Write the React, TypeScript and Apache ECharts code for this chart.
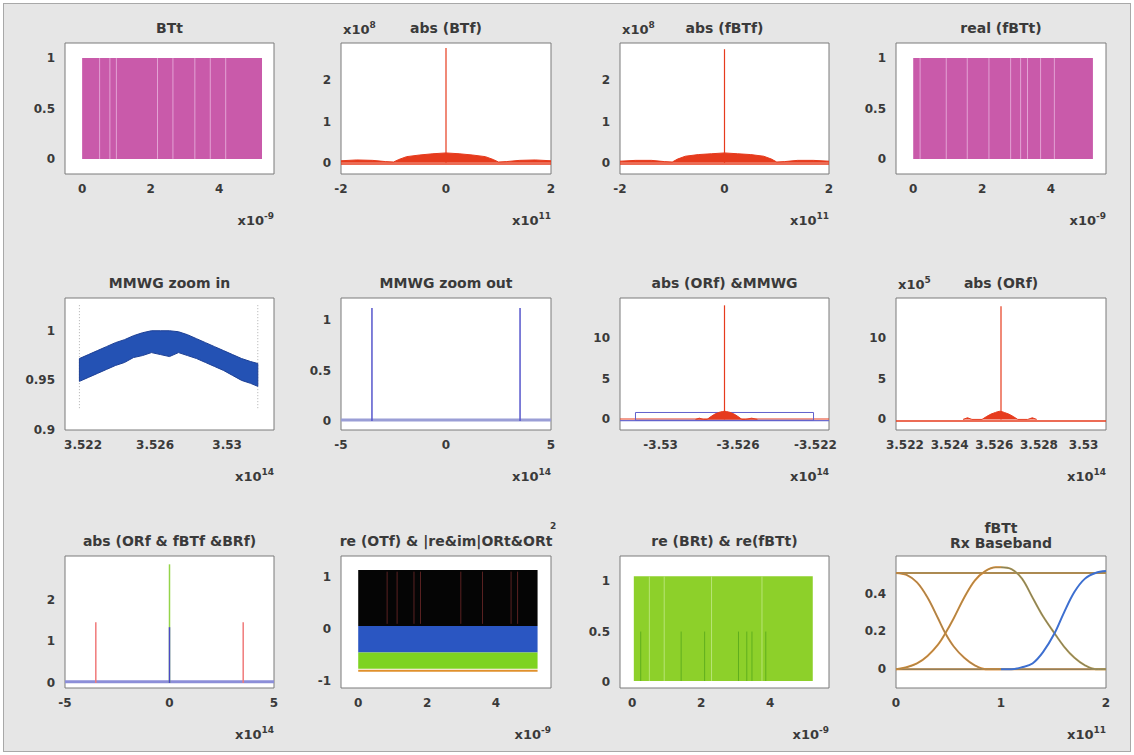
import React, { useEffect, useRef } from "react";
import * as echarts from "echarts";

const FONT = "'DejaVu Sans', 'Liberation Sans', Arial, sans-serif";
const TXT = "#3a3a3a";

// ---------- panel frames (pixels) ----------
const COLS = [[65, 274], [341, 551], [620, 829], [896, 1106]];
const ROWS = [[43, 174], [298, 430], [556, 688]];

// ---------- texts ----------
const titles = [
  "BTt", "abs (BTf)", "abs (fBTf)", "real (fBTt)",
  "MMWG zoom in", "MMWG zoom out", "abs (ORf) &MMWG", "abs (ORf)",
  "abs (ORf & fBTf &BRf)", "re (OTf) & |re&im|ORt&ORt", "re (BRt) & re(fBTt)", "fBTt\nRx Baseband",
];
const xExponents = ["-9", "11", "11", "-9", "14", "14", "14", "14", "14", "-9", "-9", "11"];
const yExponents = ["", "8", "8", "", "", "", "", "5", "", "", "", ""];

// ---------- axes ----------
const xRanges = [
  [-0.5, 5.6], [-2, 2], [-2, 2], [-0.5, 5.6],
  [3.521, 3.5326], [-5, 5], [-3.5321, -3.5213], [3.5216, 3.531],
  [-5, 5], [-0.5, 5.6], [-0.35, 5.7], [0, 2],
];
const yRanges = [
  [-0.15, 1.15], [-0.27, 2.9], [-0.27, 2.9], [-0.15, 1.15],
  [0.9, 1.033], [-0.09, 1.22], [-1.3, 14.9], [-1.3, 14.9],
  [-0.12, 3.05], [-1.13, 1.4], [-0.06, 1.25], [-0.1, 0.6],
];
const xTicks = [
  [0, 2, 4], [-2, 0, 2], [-2, 0, 2], [0, 2, 4],
  [3.522, 3.526, 3.53], [-5, 0, 5], [-3.53, -3.526, -3.522], [3.522, 3.524, 3.526, 3.528, 3.53],
  [-5, 0, 5], [0, 2, 4], [0, 2, 4], [0, 1, 2],
];
const yTicks = [
  [0, 0.5, 1], [0, 1, 2], [0, 1, 2], [0, 0.5, 1],
  [0.9, 0.95, 1], [0, 0.5, 1], [0, 5, 10], [0, 5, 10],
  [0, 1, 2], [-1, 0, 1], [0, 0.5, 1], [0, 0.2, 0.4],
];

// ---------- data ----------
// P1 BTt  [x0, x1, y0, y1]
const btBlock = [0, 5.25, 0, 1];
const btStreaks = [0.51, 0.81, 1.0, 2.2, 2.65, 3.29, 3.74, 4.19];
// P2 abs(BTf)
const btfX = [-2, -1.7, -1.4, -1.15, -1.0, -0.9, -0.75, -0.5, -0.25, 0, 0.25, 0.5, 0.75, 0.9, 1.0, 1.15, 1.4, 1.7, 2];
const btfY = [0.05, 0.07, 0.06, 0.03, 0.02, 0.08, 0.15, 0.19, 0.22, 0.24, 0.22, 0.19, 0.15, 0.08, 0.02, 0.03, 0.06, 0.07, 0.05];
const btfPeak = 2.78;
// P3 abs(fBTf)
const fbtfX = [-2, -1.7, -1.4, -1.15, -1.0, -0.9, -0.75, -0.5, -0.25, 0, 0.25, 0.5, 0.75, 0.9, 1.0, 1.15, 1.4, 1.7, 2];
const fbtfY = [0.04, 0.06, 0.06, 0.03, 0.02, 0.09, 0.16, 0.2, 0.22, 0.24, 0.22, 0.2, 0.16, 0.09, 0.02, 0.03, 0.06, 0.06, 0.04];
const fbtfPeak = 2.75;
// P4 real(fBTt)
const fbttBlock = [0, 5.22, 0, 1];
const fbttStreaks = [0.2, 0.96, 1.57, 2.2, 2.83, 3.12, 3.32, 3.7, 4.1];
// P5 MMWG zoom in
const mmwgX = [3.5218, 3.5223, 3.5228, 3.5233, 3.5238, 3.5243, 3.5248, 3.5253, 3.5258, 3.5263, 3.5268, 3.5273, 3.5278, 3.5283, 3.5288, 3.5293, 3.5298, 3.5303, 3.5308, 3.5313, 3.5317];
const mmwgHi = [0.972, 0.976, 0.98, 0.984, 0.988, 0.991, 0.995, 0.998, 1.0, 1.0, 1.0, 0.999, 0.996, 0.992, 0.988, 0.984, 0.98, 0.976, 0.972, 0.969, 0.967];
const mmwgLo = [0.949, 0.953, 0.957, 0.961, 0.965, 0.968, 0.973, 0.975, 0.978, 0.976, 0.974, 0.978, 0.975, 0.972, 0.968, 0.964, 0.96, 0.955, 0.95, 0.947, 0.944];
const mmwgEdges = [3.5218, 3.5317];
// P6 MMWG zoom out
const mmwgSpikeX = [-3.526, 3.526];
const mmwgSpikeH = 1.12;
// P7 abs(ORf) & MMWG
const orf7X = [-3.5282, -3.528, -3.5278, -3.5276, -3.5274, -3.5272, -3.527, -3.5268, -3.5267, -3.5266, -3.5264, -3.5262, -3.526, -3.5258, -3.5256, -3.5253, -3.525];
const orf7Y = [0, 0.15, 0, 0, 0.35, 0.65, 0.85, 0.97, 1.0, 0.97, 0.85, 0.65, 0.35, 0, 0, 0.15, 0];
const orf7Peak = [-3.5267, 14.0];
const window7 = [-3.5313, -3.5221, -0.1, 0.85];
// P8 abs(ORf)
const orf8X = [3.5246, 3.5248, 3.525, 3.52545, 3.52565, 3.52585, 3.52605, 3.52615, 3.52625, 3.52635, 3.52645, 3.52665, 3.52685, 3.52705, 3.5275, 3.5277, 3.5279];
const orf8Y = [0, 0.2, 0, 0, 0.35, 0.65, 0.85, 0.95, 1.0, 0.95, 0.85, 0.65, 0.35, 0, 0, 0.2, 0];
const orf8Peak = [3.5263, 13.9];
// P9 abs(ORf & fBTf & BRf)
const orfSpikes9 = [[-3.526, 1.46], [3.526, 1.46]];
const fbtfSpike9 = 2.85;
const brfSpike9 = 1.34;
// P10 re(OTf) & ...
const otBlocks = [
  [0, 5.21, 0.06, 1.13],
  [0, 5.21, -0.45, 0.06],
  [0, 5.21, -0.76, -0.45],
];
const otColors = ["#050505", "#2a56c2", "#7ed321"];
const otBottom = -0.8;
const otStreaks = [0.84, 1.13, 1.62, 1.81, 2.98, 3.61, 4.44, 4.63];
// P11 re(BRt) & re(fBTt)
const brBlock = [0.05, 5.23, 0.01, 1.05];
const brLightStreaks = [0.5, 0.93, 2.3, 3.76];
const brDarkStreaks = [0.25, 1.42, 2.1, 3.08, 3.32, 3.47, 3.87];
// P12 eye diagram
const eyeX1 = [0, 0.1, 0.2, 0.3, 0.4, 0.47, 0.55, 0.65, 0.75, 0.85, 0.95, 1.0];
const eyeFall1 = [0.51, 0.5, 0.46, 0.38, 0.27, 0.19, 0.12, 0.06, 0.02, 0.0, 0.0, 0.0];
const eyeRise1 = [0.0, 0.01, 0.03, 0.07, 0.13, 0.19, 0.27, 0.38, 0.47, 0.52, 0.54, 0.54];
const eyeX2 = [1.0, 1.1, 1.2, 1.3, 1.4, 1.51, 1.6, 1.7, 1.8, 1.9, 2.0];
const eyeFall2 = [0.54, 0.53, 0.48, 0.38, 0.28, 0.19, 0.12, 0.06, 0.02, 0.0, 0.0];
const eyeRise2 = [0.0, 0.0, 0.01, 0.03, 0.09, 0.19, 0.3, 0.41, 0.48, 0.51, 0.52];
const eyeTop = 0.51;
const eyeBottom = 0.0;

// ---------- helpers ----------
const fmt = (v: number) => String(parseFloat(Number(v).toFixed(4)));

function segSeries(i: number, data: number[][], color: string, width: number, dash?: number[]) {
  return {
    type: "custom", xAxisIndex: i, yAxisIndex: i, clip: true, silent: true, data,
    renderItem: (_p: any, api: any) => {
      const a = api.coord([api.value(0), api.value(1)]);
      const b = api.coord([api.value(2), api.value(3)]);
      return { type: "line", shape: { x1: a[0], y1: a[1], x2: b[0], y2: b[1] }, style: { stroke: color, lineWidth: width, lineDash: dash || null } };
    },
  };
}
function rectSeries(i: number, data: number[][], fill: string | null, stroke?: string) {
  return {
    type: "custom", xAxisIndex: i, yAxisIndex: i, clip: true, silent: true, data,
    renderItem: (_p: any, api: any) => {
      const a = api.coord([api.value(0), api.value(3)]);
      const b = api.coord([api.value(1), api.value(2)]);
      return {
        type: "rect",
        shape: { x: a[0], y: a[1], width: b[0] - a[0], height: b[1] - a[1] },
        style: { fill: fill || "none", stroke: stroke || null, lineWidth: 1 },
      };
    },
  };
}
function bandSeries(i: number, xs: number[], hi: number[], lo: number[], color: string) {
  return {
    type: "custom", xAxisIndex: i, yAxisIndex: i, clip: true, silent: true, data: [[xs[0], hi[0]]],
    renderItem: (_p: any, api: any) => {
      const pts: number[][] = [];
      xs.forEach((x, k) => pts.push(api.coord([x, hi[k]])));
      for (let k = xs.length - 1; k >= 0; k--) pts.push(api.coord([xs[k], lo[k]]));
      return { type: "polygon", shape: { points: pts }, style: { fill: color, stroke: "#1c3f95", lineWidth: 1 } };
    },
  };
}
function areaSeries(i: number, xs: number[], ys: number[], color: string) {
  return {
    type: "line", xAxisIndex: i, yAxisIndex: i, silent: true, symbol: "none",
    data: xs.map((x, k) => [x, ys[k]]),
    lineStyle: { color, width: 1 }, areaStyle: { color, opacity: 1 },
  };
}
function curveSeries(i: number, xs: number[], ys: number[], color: string, width: number) {
  return {
    type: "line", xAxisIndex: i, yAxisIndex: i, silent: true, symbol: "none", smooth: 0.35,
    data: xs.map((x, k) => [x, ys[k]]),
    lineStyle: { color, width },
  };
}
const expRich = {
  a: { fontSize: 13, fontWeight: "bold", fontFamily: FONT, fill: TXT, lineHeight: 15, verticalAlign: "bottom" },
  b: { fontSize: 9, fontWeight: "bold", fontFamily: FONT, fill: TXT, lineHeight: 10, verticalAlign: "top" },
};

function buildOption() {
  const grid: any[] = [], xAxis: any[] = [], yAxis: any[] = [], graphic: any[] = [];
  const lbl = { color: TXT, fontSize: 12, fontWeight: "bold", fontFamily: FONT };
  for (let i = 0; i < 12; i++) {
    const [x0, x1] = COLS[i % 4];
    const [y0, y1] = ROWS[Math.floor(i / 4)];
    grid.push({
      left: x0, top: y0, width: x1 - x0, height: y1 - y0, show: true,
      backgroundColor: "#ffffff", borderColor: "#7a7a7a", borderWidth: 1, outerBoundsMode: "none",
    });
    xAxis.push({
      type: "value", gridIndex: i, min: xRanges[i][0], max: xRanges[i][1],
      axisLine: { show: false }, axisTick: { show: false }, splitLine: { show: false },
      axisLabel: { customValues: xTicks[i], formatter: fmt, margin: 9, ...lbl },
    });
    yAxis.push({
      type: "value", gridIndex: i, min: yRanges[i][0], max: yRanges[i][1],
      axisLine: { show: false }, axisTick: { show: false }, splitLine: { show: false },
      axisLabel: { customValues: yTicks[i], formatter: fmt, margin: 10, ...lbl },
    });
    const twoLine = titles[i].indexOf("\n") >= 0;
    graphic.push({
      type: "text", x: (x0 + x1) / 2, y: twoLine ? y0 - 21 : y0 - 15, silent: true,
      style: {
        text: titles[i], fill: TXT, font: `bold 14px ${FONT}`, lineHeight: 15,
        align: "center", verticalAlign: "middle", textAlign: "center", textVerticalAlign: "middle",
      },
    });
    graphic.push({
      type: "text", x: x1, y: y1 + 45, silent: true,
      style: {
        text: `{a|x10}{b|${xExponents[i]}}`, fill: TXT,
        align: "right", verticalAlign: "middle", textAlign: "right", textVerticalAlign: "middle",
        rich: expRich,
      },
    });
    if (yExponents[i]) {
      graphic.push({
        type: "text", x: x0 + 2, y: y0 - 15, silent: true,
        style: {
          text: `{a|x10}{b|${yExponents[i]}}`, fill: TXT,
          align: "left", verticalAlign: "middle", textAlign: "left", textVerticalAlign: "middle",
          rich: expRich,
        },
      });
    }
  }
  // superscript for panel 10 title
  graphic.push({
    type: "text", x: 553, y: 526, silent: true,
    style: { text: "2", fill: TXT, font: `bold 9px ${FONT}`, align: "center", verticalAlign: "middle", textAlign: "center", textVerticalAlign: "middle" },
  });

  const RED = "#e63b1d";
  const series: any[] = [];
  // P1
  series.push(rectSeries(0, [btBlock], "#c95aaa"));
  series.push(segSeries(0, btStreaks.map((x) => [x, btBlock[2], x, btBlock[3]]), "#e3a2d4", 1));
  // P2
  series.push(segSeries(1, [[xRanges[1][0], -0.03, xRanges[1][1], -0.03]], RED, 1.5));
  series.push(areaSeries(1, btfX, btfY, RED));
  series.push(segSeries(1, [[0, 0, 0, btfPeak]], RED, 1.2));
  // P3
  series.push(segSeries(2, [[xRanges[2][0], -0.03, xRanges[2][1], -0.03]], RED, 1.5));
  series.push(areaSeries(2, fbtfX, fbtfY, RED));
  series.push(segSeries(2, [[0, 0, 0, fbtfPeak]], RED, 1.2));
  // P4
  series.push(rectSeries(3, [fbttBlock], "#c95aaa"));
  series.push(segSeries(3, fbttStreaks.map((x) => [x, fbttBlock[2], x, fbttBlock[3]]), "#e3a2d4", 1));
  // P5
  series.push(segSeries(4, mmwgEdges.map((x) => [x, 0.922, x, 1.027]), "#b0b0b0", 1, [1, 2]));
  series.push(bandSeries(4, mmwgX, mmwgHi, mmwgLo, "#2452b4"));
  // P6
  series.push(segSeries(5, [[xRanges[5][0], 0.01, xRanges[5][1], 0.01]], "#9a9ed6", 3));
  series.push(segSeries(5, mmwgSpikeX.map((x) => [x, 0, x, mmwgSpikeH]), "#5656cc", 1.5));
  // P7
  series.push(segSeries(6, [[xRanges[6][0], -0.15, xRanges[6][1], -0.15]], "#6c6cd0", 1.2));
  series.push(segSeries(6, [[xRanges[6][0], 0.05, xRanges[6][1], 0.05]], RED, 1));
  series.push(rectSeries(6, [window7], null, "#6060cc"));
  series.push(areaSeries(6, orf7X, orf7Y, RED));
  series.push(segSeries(6, [[orf7Peak[0], 0, orf7Peak[0], orf7Peak[1]]], RED, 1.2));
  // P8
  series.push(segSeries(7, [[xRanges[7][0], -0.2, xRanges[7][1], -0.2]], RED, 1.5));
  series.push(areaSeries(7, orf8X, orf8Y, RED));
  series.push(segSeries(7, [[orf8Peak[0], 0, orf8Peak[0], orf8Peak[1]]], RED, 1.2));
  // P9
  series.push(segSeries(8, [[xRanges[8][0], 0.03, xRanges[8][1], 0.03]], "#8c8ed8", 3));
  series.push(segSeries(8, orfSpikes9.map((s) => [s[0], 0, s[0], s[1]]), "#f07a7a", 1.5));
  series.push(segSeries(8, [[0, 0, 0, fbtfSpike9]], "#94d44a", 1.5));
  series.push(segSeries(8, [[0, 0, 0, brfSpike9]], "#4a4ac4", 1.5));
  // P10
  otBlocks.forEach((b, k) => series.push(rectSeries(9, [b], otColors[k])));
  series.push(segSeries(9, otStreaks.map((x) => [x, 0.1, x, 1.1]), "#5a2222", 1));
  series.push(segSeries(9, [[otBlocks[0][0], otBottom, otBlocks[0][1], otBottom]], "#e0902c", 2));
  // P11
  series.push(rectSeries(10, [brBlock], "#8dd02a"));
  series.push(segSeries(10, brLightStreaks.map((x) => [x, brBlock[2], x, brBlock[3]]), "#b9e476", 1));
  series.push(segSeries(10, brDarkStreaks.map((x) => [x, brBlock[2], x, 0.5]), "#5fae1e", 1));
  // P12
  series.push(segSeries(11, [[0, eyeTop, 2, eyeTop]], "#d98a3a", 2));
  series.push(segSeries(11, [[0, eyeTop, 2, eyeTop]], "#7f8a6a", 1));
  series.push(segSeries(11, [[0, eyeBottom, 2, eyeBottom]], "#d98a3a", 2));
  series.push(segSeries(11, [[0, eyeBottom, 2, eyeBottom]], "#6f7a6a", 1));
  series.push(curveSeries(11, eyeX1, eyeFall1, "#e0872e", 2));
  series.push(curveSeries(11, eyeX1, eyeFall1, "#8f8660", 1));
  series.push(curveSeries(11, eyeX1, eyeRise1, "#e0872e", 2));
  series.push(curveSeries(11, eyeX1, eyeRise1, "#9a8a55", 1));
  series.push(curveSeries(11, eyeX2, eyeFall2, "#b59a52", 2));
  series.push(curveSeries(11, eyeX2, eyeFall2, "#7f7f60", 1));
  series.push(curveSeries(11, eyeX2, eyeRise2, "#3d6fd0", 2));

  return { animation: false, grid, xAxis, yAxis, series, graphic };
}

export default function App() {
  const ref = useRef<HTMLDivElement>(null);
  useEffect(() => {
    const chart = echarts.init(ref.current as HTMLDivElement, null, { renderer: "svg" });
    chart.setOption(buildOption() as any);
    return () => chart.dispose();
  }, []);
  return (
    <div style={{ position: "fixed", left: 0, top: 0, width: 1134, height: 755, background: "#ffffff" }}>
      <div style={{ position: "absolute", left: 3, top: 3, width: 1126, height: 747, background: "#e6e6e6", border: "1px solid #a8a8a8" }} />
      <div ref={ref} style={{ position: "absolute", left: 0, top: 0, width: 1134, height: 755 }} />
    </div>
  );
}
